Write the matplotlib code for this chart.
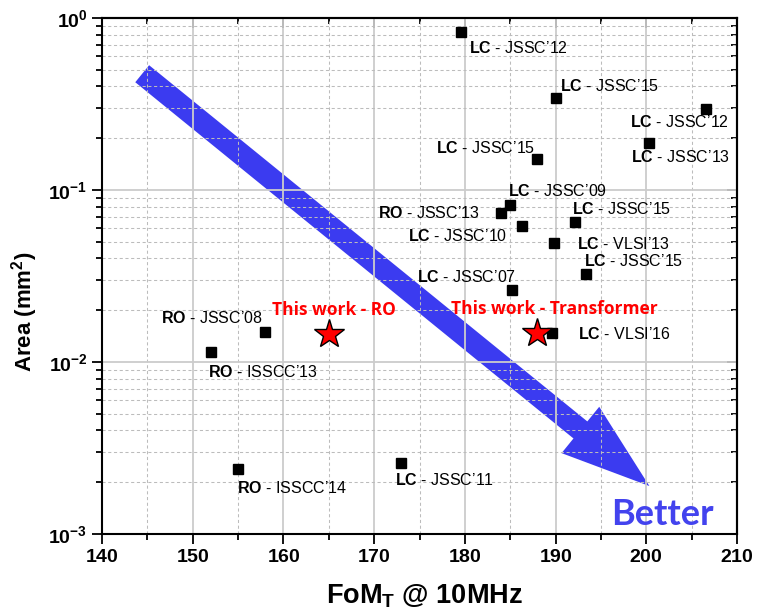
import matplotlib
matplotlib.use("Agg")
import matplotlib.pyplot as plt
from matplotlib.ticker import FixedLocator, MultipleLocator, LogLocator, NullFormatter, FuncFormatter
import numpy as np

plt.rcParams['font.family'] = ['Liberation Sans', 'DejaVu Sans']
plt.rcParams['mathtext.fontset'] = 'custom'
plt.rcParams['mathtext.rm'] = 'Liberation Sans'
plt.rcParams['mathtext.it'] = 'Liberation Sans:italic'
plt.rcParams['mathtext.bf'] = 'Liberation Sans:bold'

# Published oscillators: FoM_T at 10 MHz offset versus core area
fom = [179.6, 190.0, 206.6, 200.3, 187.9, 185.0, 184.0, 186.3, 192.1,
       189.8, 193.3, 185.2, 189.6, 173.0, 158.0, 152.0, 155.0]
area = [0.83, 0.344, 0.294, 0.187, 0.151, 0.0818, 0.0732, 0.0617, 0.0651,
        0.049, 0.0324, 0.0262, 0.0147, 0.0026, 0.0149, 0.01148, 0.00238]
osc_type = ["LC", "LC", "LC", "LC", "LC", "LC", "RO", "LC", "LC",
            "LC", "LC", "LC", "LC", "LC", "RO", "RO", "RO"]
venue = ["JSSC’12", "JSSC’15", "JSSC’12", "JSSC’13", "JSSC’15", "JSSC’09",
         "JSSC’13", "JSSC’10", "JSSC’15", "VLSI’13", "JSSC’15", "JSSC’07",
         "VLSI’16", "JSSC’11", "JSSC’08", "ISSCC’13", "ISSCC’14"]

# This work
this_fom = [165.0, 188.0]
this_area = [0.0145, 0.0147]
this_label = ["This work - RO", "This work - Transformer"]

x_ticks = [140, 150, 160, 170, 180, 190, 200, 210]
y_ticks = [1e-3, 1e-2, 1e-1, 1e0]

# label placement: (dx, dy) in pixels from the marker, and anchor side
label_offset = [(8, -21), (4, 6.5), (23, -18), (-18, -18.7), (-1, 6.6),
                (-2, 9.3), (-21, -4.4), (-15, -15.2), (-3, 8), (23, -5.4),
                (-2, 8.6), (4, 8), (26, -5.7), (-6, -22), (-2, 8.8),
                (-3, -25), (-1, -23.4)]
label_ha = ["left", "left", "right", "left", "right", "left", "right", "right",
            "left", "left", "left", "right", "left", "left", "right", "left",
            "left"]
this_offset = [(5, 19), (17, 19)]

fig = plt.figure(figsize=(7.57, 6.12), dpi=100)
ax = fig.add_axes([102 / 757, 1 - 534 / 612, 635 / 757, 516 / 612])
ax.set_xscale("linear")
ax.set_yscale("log")
ax.set_xlim(140, 210)
ax.set_ylim(1e-3, 1e0)

# grid
ax.set_axisbelow(True)
ax.grid(which="major", color="#cccccc", lw=1.3, ls="-", zorder=0.5)
ax.grid(which="minor", color="#bcbcbc", lw=0.75, ls=(0, (3, 2.5)), zorder=0.5)

ax.xaxis.set_major_locator(FixedLocator(x_ticks))
ax.xaxis.set_minor_locator(MultipleLocator(5))
ax.xaxis.set_major_formatter(FuncFormatter(lambda v, pos: r"$\mathbf{%d}$" % round(v)))
ax.yaxis.set_major_locator(FixedLocator(y_ticks))
ax.yaxis.set_minor_locator(LogLocator(base=10, subs=np.arange(2, 10)))
ax.yaxis.set_minor_formatter(NullFormatter())


def pow_fmt(v, pos):
    e = int(round(np.log10(v)))
    return r"$\mathbf{10^{%d}}$" % e


ax.yaxis.set_major_formatter(FuncFormatter(pow_fmt))
ax.tick_params(which="both", direction="out", top=False, right=False,
               width=1.3, labelsize=14)
ax.tick_params(which="major", length=7, pad=3.5)
ax.tick_params(which="minor", length=4)
for sp in ax.spines.values():
    sp.set_linewidth(1.5)

# mirrored ticks on top and right, pointing inward
top = ax.secondary_xaxis("top")
top.xaxis.set_major_locator(FixedLocator(x_ticks))
top.xaxis.set_minor_locator(MultipleLocator(5))
top.tick_params(which="both", direction="in", labeltop=False, width=1.3)
top.tick_params(which="major", length=7)
top.tick_params(which="minor", length=4)
top.spines["top"].set_linewidth(1.5)

right = ax.secondary_yaxis("right")
right.yaxis.set_major_locator(FixedLocator(y_ticks))
right.yaxis.set_minor_locator(LogLocator(base=10, subs=np.arange(2, 10)))
right.yaxis.set_minor_formatter(NullFormatter())
right.tick_params(which="both", direction="in", labelright=False, width=1.3)
right.tick_params(which="major", length=7)
right.tick_params(which="minor", length=4)
right.spines["right"].set_linewidth(1.5)

# "better" arrow, drawn beneath the grid
ax.annotate("", xy=(0.862, 0.093), xytext=(0.0633, 0.892),
            xycoords="axes fraction", textcoords="axes fraction",
            arrowprops=dict(arrowstyle="simple,head_length=64,head_width=43,tail_width=15.8",
                            mutation_scale=1, shrinkA=0, shrinkB=0,
                            color="#3b3bf0", lw=0),
            zorder=0.4)
ax.text(0.8016, 0.0174, "Better", transform=ax.transAxes, ha="left",
        va="baseline", fontsize=26, fontweight="bold", family="Lato",
        color="#4343ee")

# reference designs
ax.plot(fom, area, ls="none", marker="s", ms=7.6, color="black", zorder=3)
for x, y, t, v, off, ha in zip(fom, area, osc_type, venue, label_offset, label_ha):
    ax.annotate(r"$\mathbf{%s}$ - %s" % (t, v), xy=(x, y), xytext=off,
                textcoords="offset pixels", ha=ha, va="baseline",
                fontsize=11.5, color="black", zorder=4)

# this work
ax.plot(this_fom, this_area, ls="none", marker="*", ms=22, mfc="#ff0000",
        mec="black", mew=1.0, zorder=5)
for x, y, t, off in zip(this_fom, this_area, this_label, this_offset):
    ax.annotate(t, xy=(x, y), xytext=off, textcoords="offset pixels",
                ha="center", va="baseline", fontsize=12.5, fontweight="bold",
                family="Open Sans", color="#ff0000", zorder=6)

fig.text(424 / 757, 1 - 603 / 612, r"FoM$_\mathbf{T}$ @ 10MHz", ha="center",
         va="baseline", fontsize=19.5, fontweight="bold")
fig.text(25 / 757, 1 - 312 / 612, r"Area (mm$^\mathbf{2}$)", ha="center",
         va="center", rotation=90, fontsize=16, fontweight="bold")

fig.savefig("out.png", dpi=100)
